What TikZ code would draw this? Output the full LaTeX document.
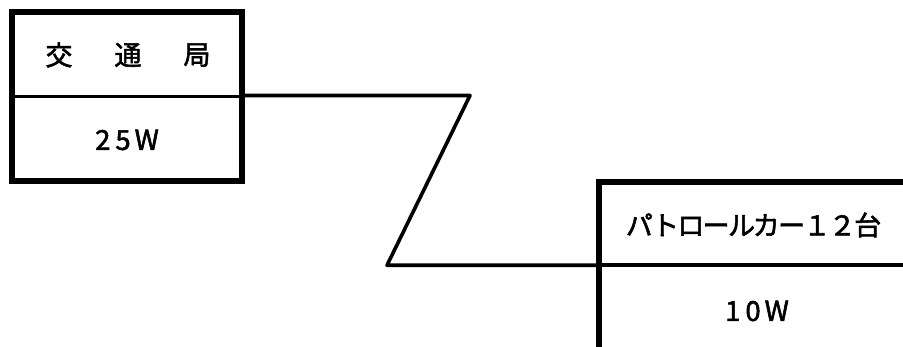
\documentclass[tikz,border=0pt]{standalone}
\usepackage{fontspec}
\newfontfamily\jpfont{Noto Sans CJK JP}[FakeBold=2]
\newfontfamily\jptight{Noto Sans CJK JP}[FakeBold=2,LetterSpace=-6]
\begin{document}
\begin{tikzpicture}[x=1pt,y=-1pt,
  thickline/.style={line width=6pt,line cap=rect},
  thinline/.style={line width=3.6pt},
  lbl/.style={font=\jpfont\fontsize{27}{30}\selectfont,inner sep=0pt,anchor=center},
  lbltight/.style={font=\jptight\fontsize{27}{30}\selectfont,inner sep=0pt,anchor=center},
  num/.style={font=\jpfont\fontsize{27.5}{32}\selectfont,inner sep=0pt,anchor=center}]
\useasboundingbox (0,0) rectangle (903,347);
% left box
\coordinate (LTL) at (12,12.5);
\coordinate (LBR) at (242,181);
\draw[thickline] (LTL) rectangle (LBR);
\coordinate (LDl) at (12,96.5);
\coordinate (LDr) at (242,96.5);
\draw[thinline] (LDl) -- (LDr);
\node[lbl] (k1) at (59,55) {交};
\node[lbl] (k2) at (128,55) {通};
\node[lbl] (k3) at (197,55) {局};
\node[num] (w1) at (127,140) {2\kern5pt5\kern4pt W};
% connector
\coordinate (C0) at (242,95.5);
\coordinate (C1) at (470,95.5);
\coordinate (C2) at (387,265.3);
\coordinate (C3) at (599,265.3);
\draw[thinline,line join=round] (C0) -- (C1) -- (C2) -- (C3);
% right box
\coordinate (RBot) at (599,352);
\coordinate (RTL) at (599,182);
\coordinate (RTR) at (910,182);
\draw[thickline,line cap=butt] (RBot) -- (RTL) -- (RTR);
\coordinate (RDr) at (910,265.3);
\draw[thinline] (C3) -- (RDr);
\node[lbltight] (p1) at (753.5,225) {パトロールカー１２台};
\node[num] (w2) at (757,311) {1\kern5pt 0\kern4pt W};
\end{tikzpicture}
\end{document}
